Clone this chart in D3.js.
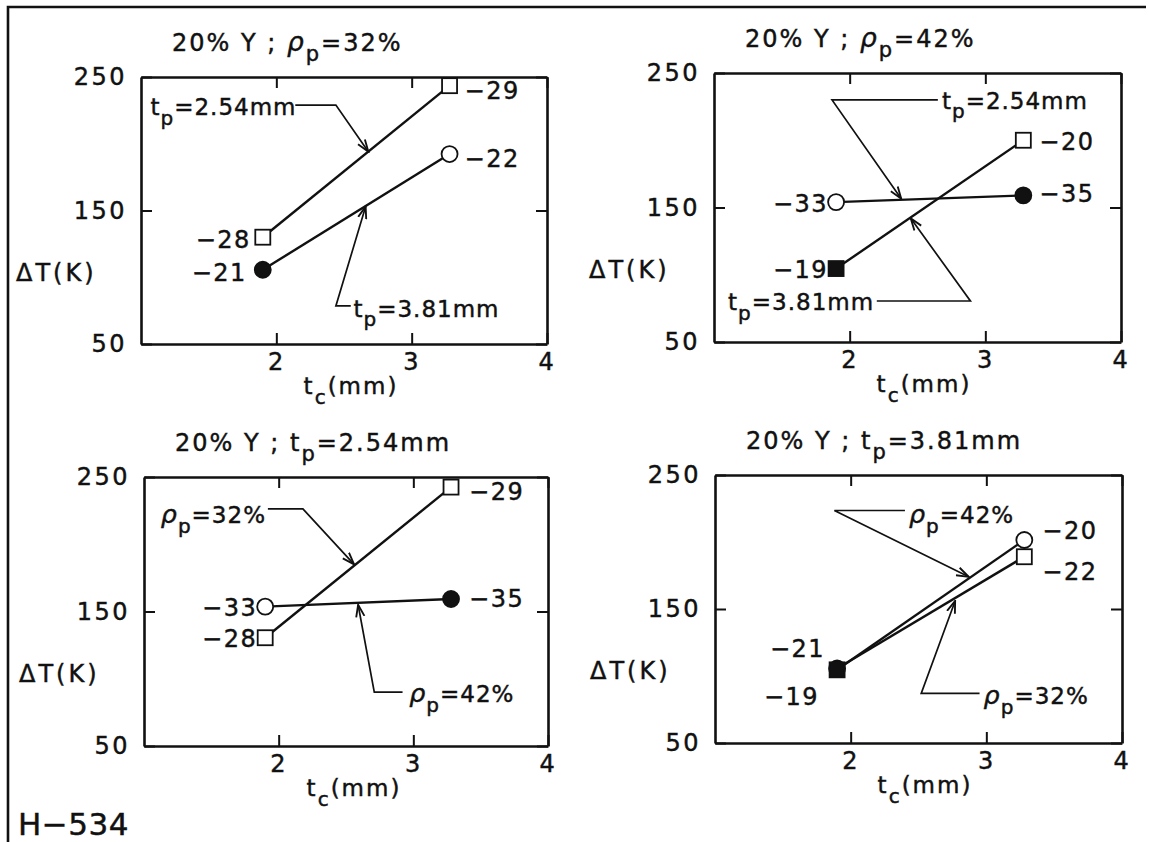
<!DOCTYPE html>
<html>
<head>
<meta charset="utf-8">
<script src="https://cdn.jsdelivr.net/npm/d3@7"></script>
<style>
  html, body { margin: 0; padding: 0; background: #fff; }
  svg { display: block; }
  text { font-family: "DejaVu Sans", sans-serif; fill: #111; stroke: #111; stroke-width: 0.45px; }
</style>
</head>
<body>
<svg id="fig" width="1149" height="842"></svg>
<script>
// ---- values ----
const xTickValues = [2, 3, 4];          // t_c (mm)
const yTickValues = [50, 150, 250];     // ΔT (K)
const tc = [1.9, 3.28];                 // coating thickness of the two specimens on each line

// ΔT (K) at tc[0], tc[1]
const dT_A_tp254 = [130, 243.5];
const dT_A_tp381 = [105.6, 192.3];
const dT_B_tp254 = [154, 159];
const dT_B_tp381 = [104.6, 200];
const dT_C_rho32 = [130.5, 242.5];
const dT_C_rho42 = [153.6, 159.3];
const dT_D_rho42 = [104.6, 201.5];
const dT_D_rho32 = [105.6, 189];

// specimen numbers
const id_A_tp254 = ["−28", "−29"];
const id_A_tp381 = ["−21", "−22"];
const id_B_tp254 = ["−33", "−35"];
const id_B_tp381 = ["−19", "−20"];
const id_C_rho32 = ["−28", "−29"];
const id_C_rho42 = ["−33", "−35"];
const id_D_rho42 = ["−19", "−20"];
const id_D_rho32 = ["−21", "−22"];

// symbols: shape + filled
const sym_A_tp254 = ["sq-open", "sq-open"];
const sym_A_tp381 = ["ci-fill", "ci-open"];
const sym_B_tp254 = ["ci-open", "ci-fill"];
const sym_B_tp381 = ["sq-fill", "sq-open"];
const sym_C_rho32 = ["sq-open", "sq-open"];
const sym_C_rho42 = ["ci-open", "ci-fill"];
const sym_D_rho42 = ["sq-fill", "ci-open"];
const sym_D_rho32 = ["ci-fill", "sq-open"];

// ---- text pieces: [string, isSubscript, italic] ----
const SUB = true;
const titleA = [["20% Y ; "], ["ρ", false, true], ["p", SUB], ["=32%"]];
const titleB = [["20% Y ; "], ["ρ", false, true], ["p", SUB], ["=42%"]];
const titleC = [["20% Y ; t"], ["p", SUB], ["=2.54mm"]];
const titleD = [["20% Y ; t"], ["p", SUB], ["=3.81mm"]];
const lblTp254 = [["t"], ["p", SUB], ["=2.54mm"]];
const lblTp381 = [["t"], ["p", SUB], ["=3.81mm"]];
const lblRho32 = [["ρ", false, true], ["p", SUB], ["=32%"]];
const lblRho42 = [["ρ", false, true], ["p", SUB], ["=42%"]];
const xTitle = [["t"], ["c", SUB], ["(mm)"]];
const yTitle = "ΔT(K)";

// ---- panel layout ----
// label placement for each point: side L/R, [dx, dy] in px from the symbol centre
const panels = [
  { x0: 141, x1: 547, y0: 77, y1: 344, title: titleA,
    series: [
      { v: dT_A_tp254, id: id_A_tp254, sym: sym_A_tp254, lab: [["L", -12, 2], ["R", 15, 5]] },
      { v: dT_A_tp381, id: id_A_tp381, sym: sym_A_tp381, lab: [["L", -16, 3], ["R", 15, 4]] } ],
    notes: [
      { text: lblTp254, at: [1.07, 227.5], anchor: "start", path: [[2.14, 229], [2.44, 229], [2.68, 194]] },
      { text: lblTp381, at: [2.57, 76.6], anchor: "start", path: [[2.55, 78.5], [2.44, 78.5], [2.66, 153]] } ] },
  { x0: 714, x1: 1121, y0: 73, y1: 342, title: titleB,
    series: [
      { v: dT_B_tp254, id: id_B_tp254, sym: sym_B_tp254, lab: [["L", -8, 1], ["R", 16, -2]] },
      { v: dT_B_tp381, id: id_B_tp381, sym: sym_B_tp381, lab: [["L", -8, 1], ["R", 16, 1]] } ],
    notes: [
      { text: lblTp254, at: [2.68, 229.7], anchor: "start", path: [[2.65, 230], [1.87, 230], [2.38, 156.5]] },
      { text: lblTp381, at: [2.18, 79.7], anchor: "end", path: [[2.2, 80.5], [2.89, 80.5], [2.45, 142]] } ] },
  { x0: 144, x1: 548, y0: 477, y1: 746, title: titleC,
    series: [
      { v: dT_C_rho32, id: id_C_rho32, sym: sym_C_rho32, lab: [["L", -8, 1], ["R", 18, 4]] },
      { v: dT_C_rho42, id: id_C_rho42, sym: sym_C_rho42, lab: [["L", -8, 1], ["R", 18, -1]] } ],
    notes: [
      { text: lblRho32, at: [1.125, 222], anchor: "start", path: [[1.92, 226.3], [2.18, 226.3], [2.56, 185]] },
      { text: lblRho42, at: [2.97, 88.8], anchor: "start", path: [[2.92, 90], [2.71, 90], [2.59, 155]] } ] },
  { x0: 715, x1: 1122, y0: 475, y1: 743, title: titleD,
    series: [
      { v: dT_D_rho32, id: id_D_rho32, sym: sym_D_rho32, lab: [["L", -12, -20], ["R", 18, 15]] },
      { v: dT_D_rho42, id: id_D_rho42, sym: sym_D_rho42, lab: [["L", -18, 27], ["R", 18, -10]] } ],
    notes: [
      { text: lblRho42, at: [2.43, 220], anchor: "start", path: [[2.4, 223.5], [1.88, 223.5], [2.87, 174]] },
      { text: lblRho32, at: [2.98, 85], anchor: "start", path: [[2.95, 87], [2.52, 87], [2.77, 156]] } ] }
];

const svg = d3.select("#fig");
const INK = "#111";

svg.append("defs").append("marker")
  .attr("id", "arrow").attr("viewBox", "0 -5 12 10")
  .attr("refX", 11).attr("refY", 0)
  .attr("markerWidth", 14).attr("markerHeight", 11)
  .attr("markerUnits", "userSpaceOnUse").attr("orient", "auto")
  .append("path").attr("d", "M0,-3.8L11,0L0,3.8")
  .attr("fill", "none").attr("stroke", INK).attr("stroke-width", 1.7);

// rich text with subscripts
function rich(sel, parts, size) {
  const subSize = Math.round(size * 0.86);
  const drop = size * 0.42;
  let shifted = false;
  parts.forEach(([s, sub, ital]) => {
    const t = sel.append("tspan").text(s);
    if (ital) t.attr("font-style", "italic").attr("font-size", size * 1.1);
    if (sub && !shifted) { t.attr("font-size", subSize).attr("dy", drop); shifted = true; }
    else if (!sub && shifted) { t.attr("dy", -drop); shifted = false; }
  });
  return sel;
}

// outer sheet border (top and left edges)
svg.append("path").attr("d", "M8,842V7H1146")
  .attr("fill", "none").attr("stroke", INK).attr("stroke-width", 2.6);

panels.forEach(p => {
  const x = d3.scaleLinear().domain([1, 4]).range([p.x0, p.x1]);
  const y = d3.scaleLinear().domain([50, 250]).range([p.y1, p.y0]);
  const g = svg.append("g");
  const fs = 24;

  // axes: inward ticks, frame made of the four domain lines
  const ax = (axis, tx, ty, labels) => {
    const a = g.append("g").attr("transform", `translate(${tx},${ty})`).call(axis);
    a.selectAll(".domain").attr("stroke", INK).attr("stroke-width", 2.6);
    a.selectAll(".tick line").attr("stroke", INK).attr("stroke-width", 2);
    a.selectAll(".tick text").attr("font-size", fs).attr("fill", INK)
      .attr("font-family", "DejaVu Sans").attr("letter-spacing", 2.5);
    if (!labels) a.selectAll(".tick text").remove();
    return a;
  };
  const fmt = d3.format("d");
  ax(d3.axisBottom(x).tickValues(xTickValues).tickFormat(fmt).tickSize(-11).tickSizeOuter(0).tickPadding(9), 0, p.y1, true);
  ax(d3.axisTop(x).tickValues(xTickValues).tickSize(-11).tickSizeOuter(0), 0, p.y0, false);
  ax(d3.axisLeft(y).tickValues(yTickValues).tickFormat(fmt).tickSize(-11).tickSizeOuter(0).tickPadding(14), p.x0, 0, true);
  ax(d3.axisRight(y).tickValues(yTickValues).tickSize(-11).tickSizeOuter(0), p.x1, 0, false);

  // titles
  rich(g.append("text").attr("x", p.x0 + 31).attr("y", p.y0 - 26)
    .attr("font-size", 24).attr("letter-spacing", 2), p.title, 24);
  rich(g.append("text").attr("x", p.x0 + 210).attr("y", p.y1 + 50)
    .attr("text-anchor", "middle").attr("font-size", 23).attr("letter-spacing", 2), xTitle, 23);
  g.append("text").attr("x", p.x0 - 125).attr("y", y(104)).attr("dy", "0.36em")
    .attr("font-size", 24).attr("letter-spacing", 3).text(yTitle);

  // leader lines with arrows
  p.notes.forEach(n => {
    g.append("path")
      .attr("d", d3.line().x(d => x(d[0])).y(d => y(d[1]))(n.path))
      .attr("fill", "none").attr("stroke", INK).attr("stroke-width", 1.7)
      .attr("marker-end", "url(#arrow)");
    rich(g.append("text").attr("x", x(n.at[0])).attr("y", y(n.at[1])).attr("dy", "0.36em")
      .attr("text-anchor", n.anchor).attr("font-size", 23).attr("letter-spacing", 1), n.text, 23);
  });

  // data lines
  p.series.forEach(s => {
    const pts = tc.map((t, i) => [t, s.v[i]]);
    g.append("path").attr("d", d3.line().x(d => x(d[0])).y(d => y(d[1]))(pts))
      .attr("fill", "none").attr("stroke", INK).attr("stroke-width", 2.4);
  });

  // symbols and specimen numbers
  p.series.forEach(s => {
    tc.forEach((t, i) => {
      const cx = x(t), cy = y(s.v[i]);
      const [shape, fill] = s.sym[i].split("-");
      const f = fill === "fill" ? INK : "#fff";
      if (shape === "sq") {
        g.append("rect").attr("x", cx - 7.5).attr("y", cy - 7.5).attr("width", 15).attr("height", 15)
          .attr("fill", f).attr("stroke", INK).attr("stroke-width", 1.8);
      } else {
        g.append("circle").attr("cx", cx).attr("cy", cy).attr("r", 8)
          .attr("fill", f).attr("stroke", INK).attr("stroke-width", 1.8);
      }
      const [side, dx, dy] = s.lab[i];
      g.append("text").attr("x", cx + dx).attr("y", cy + dy).attr("dy", "0.36em")
        .attr("text-anchor", side === "L" ? "end" : "start")
        .attr("font-size", 24).attr("letter-spacing", 1.5).text(s.id[i]);
    });
  });
});

svg.append("text").attr("x", 18).attr("y", 835)
  .attr("font-size", 31).attr("letter-spacing", 0.5).text("H−534");
</script>
</body>
</html>
